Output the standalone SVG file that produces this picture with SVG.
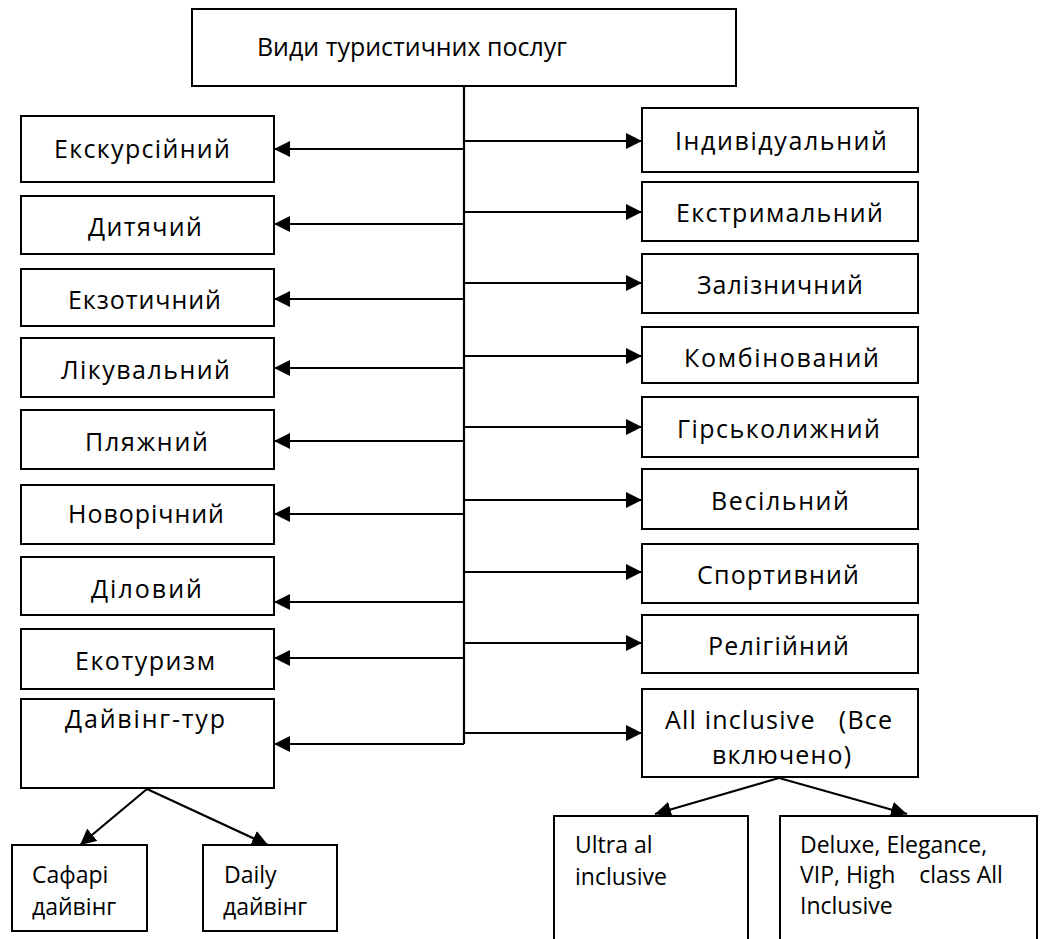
<svg xmlns="http://www.w3.org/2000/svg" width="1042" height="939" viewBox="0 0 1042 939">
<style>
.box{fill:#fff;stroke:#000;stroke-width:2}
.t{font-family:"Open Sans","Noto Sans",sans-serif;font-size:25px;fill:#000}
.s{font-family:"Open Sans","Noto Sans",sans-serif;font-size:23px;fill:#000}
.c{fill:none;stroke:#000;stroke-width:2.2}
</style>
<defs>
<marker id="ah" viewBox="0 0 16 16" refX="16" refY="8" markerWidth="16" markerHeight="16" markerUnits="userSpaceOnUse" orient="auto"><path d="M0,0 L16,8 L0,16 z" fill="#000"/></marker>
</defs>
<rect width="1042" height="939" fill="#fff"/>

<g id="connectors">
<path class="c" d="M464,86 V744"/>
<path class="c" marker-end="url(#ah)" d="M464,149 H274"/>
<path class="c" marker-end="url(#ah)" d="M464,224 H274"/>
<path class="c" marker-end="url(#ah)" d="M464,299 H274"/>
<path class="c" marker-end="url(#ah)" d="M464,368 H274"/>
<path class="c" marker-end="url(#ah)" d="M464,441 H274"/>
<path class="c" marker-end="url(#ah)" d="M464,514 H274"/>
<path class="c" marker-end="url(#ah)" d="M464,602 H274"/>
<path class="c" marker-end="url(#ah)" d="M464,658 H274"/>
<path class="c" marker-end="url(#ah)" d="M464,744 H274"/>
<path class="c" marker-end="url(#ah)" d="M463,141 H642"/>
<path class="c" marker-end="url(#ah)" d="M463,212 H642"/>
<path class="c" marker-end="url(#ah)" d="M463,283 H642"/>
<path class="c" marker-end="url(#ah)" d="M463,356 H642"/>
<path class="c" marker-end="url(#ah)" d="M463,427 H642"/>
<path class="c" marker-end="url(#ah)" d="M463,500 H642"/>
<path class="c" marker-end="url(#ah)" d="M463,572 H642"/>
<path class="c" marker-end="url(#ah)" d="M463,643 H642"/>
<path class="c" marker-end="url(#ah)" d="M463,733 H642"/>
<path class="c" marker-end="url(#ah)" d="M147,789 L80,845"/>
<path class="c" marker-end="url(#ah)" d="M147,789 L268,845"/>
<path class="c" marker-end="url(#ah)" d="M779,778 L655,814"/>
<path class="c" marker-end="url(#ah)" d="M779,778 L907,814"/>
</g>

<g id="n-root"><rect class="box" x="192" y="9" width="544" height="77"/><text class="t" x="257" y="56" textLength="310" lengthAdjust="spacingAndGlyphs">Види туристичних послуг</text></g>

<g id="n-ekskursiinyi"><rect class="box" x="21" y="116" width="253" height="66"/><text class="t" x="54" y="158" textLength="176">Екскурсійний</text></g>
<g id="n-dytiachyi"><rect class="box" x="21" y="196" width="253" height="58"/><text class="t" x="88" y="236" textLength="114">Дитячий</text></g>
<g id="n-ekzotychnyi"><rect class="box" x="21" y="269" width="253" height="57"/><text class="t" x="68" y="309" textLength="153">Екзотичний</text></g>
<g id="n-likuvalnyi"><rect class="box" x="21" y="338" width="253" height="59"/><text class="t" x="61" y="379" textLength="169">Лікувальний</text></g>
<g id="n-pliazhnyi"><rect class="box" x="21" y="410" width="253" height="59"/><text class="t" x="85" y="451" textLength="123">Пляжний</text></g>
<g id="n-novorichnyi"><rect class="box" x="21" y="485" width="253" height="59"/><text class="t" x="68" y="523" textLength="156">Новорічний</text></g>
<g id="n-dilovyi"><rect class="box" x="21" y="557" width="253" height="58"/><text class="t" x="91" y="598" textLength="111">Діловий</text></g>
<g id="n-ekoturyzm"><rect class="box" x="21" y="629" width="253" height="60"/><text class="t" x="75" y="670" textLength="140">Екотуризм</text></g>
<g id="n-daivinh"><rect class="box" x="21" y="699" width="253" height="89"/><text class="t" x="65" y="728" textLength="160">Дайвінг-тур</text></g>

<g id="n-safari"><rect class="box" x="12" y="845" width="135" height="86"/><text class="s" x="32" y="883">Сафарі</text><text class="s" x="32" y="915">дайвінг</text></g>
<g id="n-daily"><rect class="box" x="203" y="845" width="134" height="86"/><text class="s" x="224" y="883">Daily</text><text class="s" x="223" y="915">дайвінг</text></g>

<g id="n-indyvidualnyi"><rect class="box" x="642" y="108" width="276" height="64"/><text class="t" x="675" y="150" textLength="212">Індивідуальний</text></g>
<g id="n-ekstrymalnyi"><rect class="box" x="642" y="182" width="276" height="59"/><text class="t" x="676" y="222" textLength="207">Екстримальний</text></g>
<g id="n-zaliznychnyi"><rect class="box" x="642" y="254" width="276" height="59"/><text class="t" x="697" y="294" textLength="166">Залізничний</text></g>
<g id="n-kombinovanyi"><rect class="box" x="642" y="327" width="276" height="56"/><text class="t" x="684" y="367" textLength="195">Комбінований</text></g>
<g id="n-hirskolyzhnyi"><rect class="box" x="642" y="397" width="276" height="60"/><text class="t" x="677" y="438" textLength="203">Гірськолижний</text></g>
<g id="n-vesilnyi"><rect class="box" x="642" y="469" width="276" height="60"/><text class="t" x="711" y="510" textLength="138">Весільний</text></g>
<g id="n-sportyvnyi"><rect class="box" x="642" y="544" width="276" height="59"/><text class="t" x="697" y="584" textLength="162">Спортивний</text></g>
<g id="n-relihiinyi"><rect class="box" x="642" y="615" width="276" height="58"/><text class="t" x="708" y="655" textLength="141">Релігійний</text></g>
<g id="n-allinclusive"><rect class="box" x="642" y="689" width="276" height="88"/><text class="t" x="665" y="729" textLength="227" xml:space="preserve">All inclusive   (Все</text><text class="t" x="712" y="764" textLength="139">включено)</text></g>

<g id="n-ultra"><rect class="box" x="554" y="816" width="194" height="140"/><text class="s" x="575" y="853">Ultra al</text><text class="s" x="575" y="885">inclusive</text></g>
<g id="n-deluxe"><rect class="box" x="780" y="816" width="257" height="140"/><text class="s" x="800" y="853">Deluxe, Elegance,</text><text class="s" x="800" y="883" xml:space="preserve">VIP, High    class All</text><text class="s" x="800" y="914">Inclusive</text></g>
</svg>
